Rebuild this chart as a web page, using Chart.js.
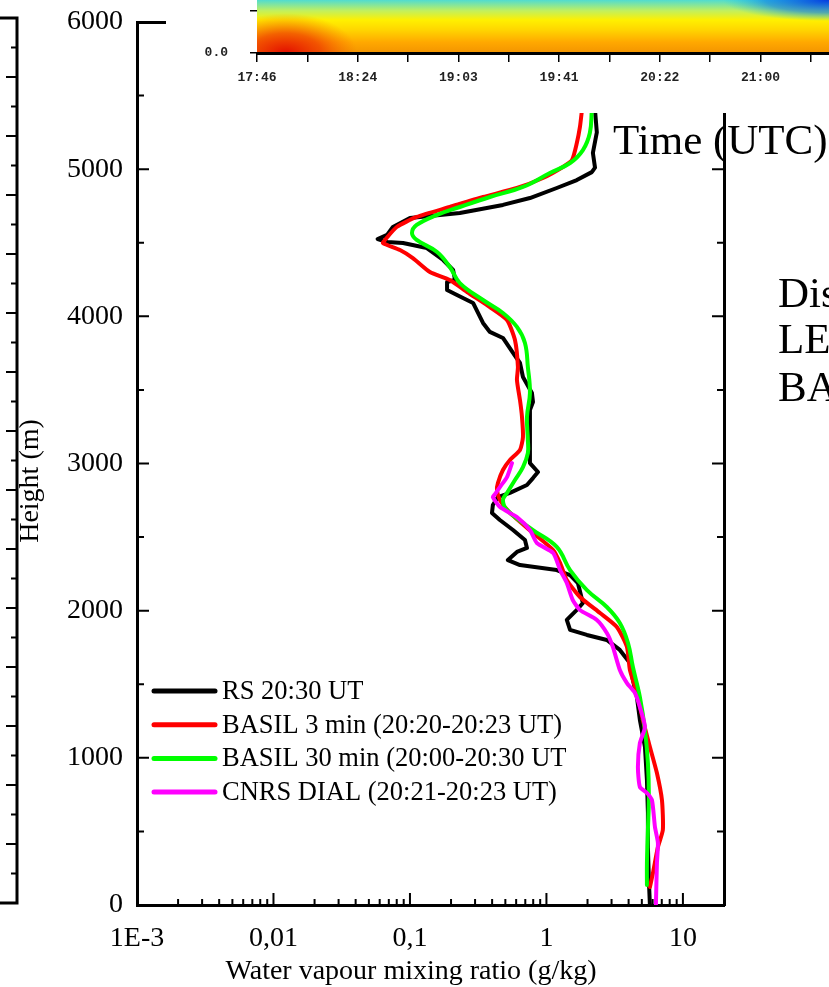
<!DOCTYPE html>
<html>
<head>
<meta charset="utf-8">
<script src="https://cdn.jsdelivr.net/npm/chart.js@4.4.0/dist/chart.umd.min.js"></script>
<style>
    body { margin: 0; background: #fff; }
    #wrap { position: relative; width: 829px; height: 987px; overflow: hidden; }
    canvas { position: absolute; }
    #main { left: 0; top: 0; }
    #side { left: 0; top: 0; }
    #inset { left: 166px; top: 0; background: #fff; }
</style>
</head>
<body>
<div id="wrap">
    <canvas id="main" width="829" height="987"></canvas>
    <canvas id="side" width="24" height="987"></canvas>
    <canvas id="inset" width="663" height="113"></canvas>
</div>
<script>
// profiles: height (m) and water vapour mixing ratio (g/kg)
const rsHeight = [5400, 5250, 5110, 5010, 4980, 4926, 4872, 4804, 4757, 4702, 4668, 4607, 4553, 4525, 4505, 4498, 4464, 4383, 4315, 4247, 4233, 4179, 4145, 4091, 3955, 3894, 3853, 3751, 3683, 3588, 3479, 3418, 3364, 3180, 3003, 2942, 2901, 2854, 2800, 2772, 2718, 2664, 2616, 2548, 2480, 2426, 2399, 2344, 2310, 2276, 2242, 2188, 2052, 2005, 1937, 1869, 1835, 1801, 1733, 1644, 1529, 1413, 1257, 1074, 849, 625, 394, 170, 0];
const rsMix = [2.27, 2.34, 2.19, 2.27, 2.15, 1.67, 1.19, 0.757, 0.48, 0.232, 0.1, 0.075, 0.068, 0.058, 0.068, 0.089, 0.133, 0.175, 0.207, 0.214, 0.187, 0.187, 0.221, 0.29, 0.343, 0.385, 0.48, 0.569, 0.64, 0.673, 0.783, 0.797, 0.757, 0.757, 0.757, 0.867, 0.797, 0.72, 0.54, 0.441, 0.405, 0.399, 0.456, 0.569, 0.696, 0.72, 0.608, 0.522, 0.64, 1.19, 1.49, 1.70, 1.85, 1.67, 1.41, 1.49, 1.98, 2.77, 3.45, 4.09, 4.30, 4.60, 4.84, 5.27, 5.45, 5.54, 5.54, 5.63, 5.73];

const basil3Height = [5400, 5287, 5178, 5062, 5015, 4940, 4872, 4811, 4743, 4675, 4607, 4519, 4498, 4451, 4396, 4301, 4247, 4165, 4063, 3975, 3839, 3656, 3567, 3431, 3316, 3180, 3092, 3024, 2956, 2867, 2820, 2752, 2664, 2528, 2412, 2324, 2208, 2093, 1984, 1889, 1753, 1597, 1441, 1257, 1074, 897, 713, 510, 394, 217, 122];
const basil3Mix = [1.82, 1.76, 1.67, 1.54, 1.32, 0.942, 0.608, 0.343, 0.196, 0.112, 0.080, 0.0656, 0.0634, 0.0845, 0.105, 0.140, 0.196, 0.262, 0.385, 0.514, 0.588, 0.618, 0.608, 0.64, 0.662, 0.673, 0.64, 0.54, 0.48, 0.441, 0.434, 0.456, 0.54, 0.797, 1.12, 1.26, 1.41, 1.76, 2.47, 3.28, 3.89, 4.09, 4.60, 5.09, 5.73, 6.45, 7.02, 7.13, 6.56, 6.03, 5.73];

const basil30Height = [5400, 5246, 5130, 5042, 4974, 4879, 4811, 4743, 4689, 4621, 4566, 4519, 4437, 4335, 4226, 4111, 4023, 3928, 3819, 3656, 3479, 3316, 3160, 3071, 2976, 2888, 2800, 2752, 2684, 2548, 2433, 2276, 2140, 2025, 1916, 1780, 1617, 1413, 1189, 965, 734, 510, 285, 136];
const basil30Mix = [2.15, 2.08, 1.85, 1.49, 1.06, 0.673, 0.385, 0.232, 0.158, 0.112, 0.1035, 0.112, 0.158, 0.196, 0.232, 0.343, 0.48, 0.608, 0.696, 0.731, 0.757, 0.72, 0.731, 0.731, 0.673, 0.588, 0.514, 0.48, 0.514, 0.797, 1.19, 1.49, 1.98, 2.77, 3.45, 3.96, 4.30, 4.84, 5.27, 5.54, 5.63, 5.54, 5.45, 5.45];

const dialHeight = [3003, 2908, 2840, 2792, 2772, 2704, 2636, 2548, 2460, 2392, 2276, 2188, 2072, 2005, 1937, 1848, 1753, 1597, 1508, 1441, 1345, 1210, 1101, 938, 802, 761, 713, 530, 421, 285, 0];
const dialMix = [0.559, 0.514, 0.456, 0.42, 0.405, 0.456, 0.608, 0.757, 0.851, 1.12, 1.26, 1.41, 1.56, 1.76, 2.34, 2.77, 3.07, 3.45, 3.89, 4.45, 4.84, 5.27, 4.84, 4.68, 4.84, 5.45, 5.93, 6.24, 6.56, 6.45, 6.34];

const seriesLabels = ["RS 20:30 UT", "BASIL 3 min (20:20-20:23 UT)", "BASIL 30 min (20:00-20:30 UT", "CNRS DIAL (20:21-20:23 UT)"];
const seriesColors = ["#000000", "#ff0000", "#00ff00", "#ff00ff"];

const xTickValues = [0.001, 0.01, 0.1, 1, 10];
const xTickLabels = ["1E-3", "0,01", "0,1", "1", "10"];
const yTickValues = [0, 1000, 2000, 3000, 4000, 5000, 6000];

// inset (lidar time-height section) axis labels
const insetTimes = ["17:46", "18:24", "19:03", "19:41", "20:22", "21:00"];

const serif = "'Liberation Serif', 'Times New Roman', serif";

const toPoints = (xs, ys) => xs.map((x, i) => ({ x: x, y: ys[i] }));

// keep Chart.js from reserving room for the end labels
const noPad = s => {
    s.paddingTop = 0;
    s.paddingBottom = 0;
    s.paddingLeft = 0;
    s.paddingRight = 0;
};

// inward tick marks, major and minor
const yMarks = [];
for (let h = 0; h <= 6000; h += 500) {
    yMarks.push({ v: h, len: h % 1000 === 0 ? 12 : 7 });
}
const xMarks = [];
xTickValues.forEach(d => {
    for (let m = 1; m <= 9; m++) {
        if (d * m < 20) xMarks.push({ v: d * m, len: m === 1 ? 12 : 6 });
    }
});

const innerTicks = {
    id: "innerTicks",
    afterDraw(chart, args, opts) {
        const { ctx, chartArea: a, scales } = chart;
        ctx.save();
        ctx.strokeStyle = "#000";
        ctx.lineWidth = 2;
        ctx.beginPath();
        opts.y.forEach(t => {
            const py = scales.y.getPixelForValue(t.v);
            ctx.moveTo(a.left, py);
            ctx.lineTo(a.left + t.len, py);
            ctx.moveTo(a.right, py);
            ctx.lineTo(a.right - t.len, py);
        });
        opts.x.forEach(t => {
            const px = scales.x.getPixelForValue(t.v);
            ctx.moveTo(px, a.bottom);
            ctx.lineTo(px, a.bottom - t.len);
        });
        ctx.stroke();
        ctx.restore();
    }
};

const annotations = {
    id: "annotations",
    afterDraw(chart) {
        const ctx = chart.ctx;
        ctx.save();
        ctx.fillStyle = "#000";

        ctx.font = "28px " + serif;
        ctx.textAlign = "center";
        ctx.textBaseline = "middle";
        ctx.save();
        ctx.translate(31, 481);
        ctx.rotate(-Math.PI / 2);
        ctx.fillText("Height (m)", 0, 0);
        ctx.restore();

        ctx.textBaseline = "alphabetic";
        ctx.fillText("Water vapour mixing ratio (g/kg)", 411, 979);

        // legend
        ctx.font = "26.5px " + serif;
        ctx.textAlign = "left";
        ctx.textBaseline = "middle";
        chart.data.datasets.forEach((ds, i) => {
            const y = 691 + i * 33.7;
            ctx.strokeStyle = ds.borderColor;
            ctx.lineWidth = 5;
            ctx.lineCap = "round";
            ctx.beginPath();
            ctx.moveTo(154, y);
            ctx.lineTo(215, y);
            ctx.stroke();
            ctx.fillText(ds.label, 222, y + 1);
        });

        ctx.font = "43px " + serif;
        ctx.textBaseline = "alphabetic";
        ctx.fillText("Time (UTC)", 613, 154);
        ctx.fillText("Dis", 778, 307);
        ctx.fillText("LE", 778, 353);
        ctx.fillText("BA", 778, 401);
        ctx.restore();
    }
};

const profiles = [
    toPoints(rsMix, rsHeight),
    toPoints(basil3Mix, basil3Height),
    toPoints(basil30Mix, basil30Height),
    toPoints(dialMix, dialHeight),
];
const tensions = [0, 0.2, 0.4, 0.2];

const mainChart = new Chart(document.getElementById("main").getContext("2d"), {
    type: "scatter",
    data: {
        datasets: profiles.map((pts, i) => ({
            label: seriesLabels[i],
            data: pts,
            showLine: true,
            borderColor: seriesColors[i],
            backgroundColor: seriesColors[i],
            borderWidth: 4,
            borderJoinStyle: "round",
            borderCapStyle: "round",
            pointRadius: 0,
            tension: tensions[i],
            order: 4 - i,
        })),
    },
    options: {
        responsive: false,
        animation: false,
        devicePixelRatio: 1,
        layout: { padding: 0 },
        plugins: {
            legend: { display: false },
            tooltip: { enabled: false },
            innerTicks: { x: xMarks, y: yMarks },
        },
        scales: {
            x: {
                type: "logarithmic",
                position: "bottom",
                min: 0.001,
                max: 20,
                afterBuildTicks: s => { s.ticks = xTickValues.map(v => ({ value: v })); },
                ticks: {
                    autoSkip: false,
                    maxRotation: 0,
                    padding: 17,
                    color: "#000",
                    font: { family: serif, size: 28 },
                    callback: v => {
                        const k = xTickValues.indexOf(v);
                        return k >= 0 ? xTickLabels[k] : "";
                    },
                },
                grid: { display: false, drawTicks: false },
                border: { color: "#000", width: 3 },
                afterFit: s => { s.height = 82; noPad(s); },
            },
            xT: {
                type: "logarithmic",
                position: "top",
                min: 0.001,
                max: 20,
                ticks: { display: false },
                grid: { display: false, drawTicks: false },
                border: { color: "#000", width: 3 },
                afterFit: s => { s.height = 22; noPad(s); },
            },
            y: {
                type: "linear",
                position: "left",
                min: 0,
                max: 6000,
                afterBuildTicks: s => { s.ticks = yTickValues.map(v => ({ value: v })); },
                ticks: {
                    padding: 14,
                    color: "#000",
                    font: { family: serif, size: 28 },
                    callback: v => String(v),
                },
                grid: { display: false, drawTicks: false },
                border: { color: "#000", width: 3 },
                afterFit: s => { s.width = 137; noPad(s); },
            },
            yR: {
                type: "linear",
                position: "right",
                min: 0,
                max: 6000,
                ticks: { display: false },
                grid: { display: false, drawTicks: false },
                border: { color: "#000", width: 3 },
                afterFit: s => { s.width = 105; noPad(s); },
            },
        },
    },
    plugins: [innerTicks, annotations],
});

// edge of the neighbouring panel on the left
const sideMarks = [];
for (let k = 1; k < 30; k++) sideMarks.push({ v: k, len: k % 2 === 0 ? 11 : 6 });

const sideFrame = {
    id: "sideFrame",
    afterDraw(chart) {
        const { ctx, chartArea: a, scales } = chart;
        const top = scales.y.getPixelForValue(30);
        const bottom = scales.y.getPixelForValue(0);
        ctx.save();
        ctx.strokeStyle = "#000";
        ctx.lineWidth = 3;
        ctx.beginPath();
        ctx.moveTo(0, top);
        ctx.lineTo(a.right, top);
        ctx.lineTo(a.right, bottom);
        ctx.lineTo(0, bottom);
        ctx.stroke();
        ctx.lineWidth = 2;
        ctx.beginPath();
        sideMarks.forEach(t => {
            const py = scales.y.getPixelForValue(t.v);
            ctx.moveTo(a.right, py);
            ctx.lineTo(a.right - t.len, py);
        });
        ctx.stroke();
        ctx.restore();
    }
};

const sideChart = new Chart(document.getElementById("side").getContext("2d"), {
    type: "scatter",
    data: { datasets: [] },
    options: {
        responsive: false,
        animation: false,
        devicePixelRatio: 1,
        layout: { padding: { top: 18, bottom: 84, left: 0, right: 0 } },
        plugins: { legend: { display: false }, tooltip: { enabled: false } },
        scales: {
            x: { display: false, min: 0, max: 1 },
            y: {
                position: "right",
                min: 0,
                max: 30,
                ticks: { display: false },
                grid: { display: false, drawTicks: false },
                border: { display: false },
                afterFit: s => { s.width = 7; noPad(s); },
            },
        },
    },
    plugins: [sideFrame],
});

// colour strip of the inset
const heatStrip = {
    id: "heatStrip",
    beforeDraw(chart) {
        const { ctx, chartArea: a } = chart;
        const w = a.right - a.left;
        const h = a.bottom - a.top;
        ctx.save();
        ctx.beginPath();
        ctx.rect(a.left, a.top, w, h);
        ctx.clip();

        const g = ctx.createLinearGradient(0, a.bottom, 0, a.top);
        g.addColorStop(0, "#f39400");
        g.addColorStop(0.2, "#ffa800");
        g.addColorStop(0.45, "#ffd800");
        g.addColorStop(0.62, "#fff000");
        g.addColorStop(0.8, "#c0f060");
        g.addColorStop(1, "#50dcd0");
        ctx.fillStyle = g;
        ctx.fillRect(a.left, a.top, w, h);

        // moister, reddish base at the start of the record
        ctx.save();
        ctx.translate(a.left + w * 0.05, a.bottom);
        ctx.scale(1.8, 1);
        const red = ctx.createRadialGradient(0, 0, 0, 0, 0, h * 0.75);
        red.addColorStop(0, "rgba(225,0,0,0.9)");
        red.addColorStop(0.5, "rgba(235,30,0,0.6)");
        red.addColorStop(1, "rgba(245,80,0,0)");
        ctx.fillStyle = red;
        ctx.fillRect(-w, -h, 2 * w, 2 * h);
        ctx.restore();

        // drier, bluer air on the top right
        ctx.save();
        ctx.translate(a.right, a.top);
        ctx.scale(5, 1);
        const blue = ctx.createRadialGradient(0, 0, 0, 0, 0, h * 0.4);
        blue.addColorStop(0, "rgba(0,50,225,0.95)");
        blue.addColorStop(0.6, "rgba(0,120,240,0.6)");
        blue.addColorStop(1, "rgba(0,190,255,0)");
        ctx.fillStyle = blue;
        ctx.fillRect(-w, -h, 2 * w, 2 * h);
        ctx.restore();

        ctx.restore();
    }
};

const monoFont = { family: "'Liberation Mono', 'DejaVu Sans Mono', monospace", size: 13, weight: "bold" };

const insetChart = new Chart(document.getElementById("inset").getContext("2d"), {
    type: "scatter",
    data: { datasets: [] },
    options: {
        responsive: false,
        animation: false,
        devicePixelRatio: 1,
        layout: { padding: 0 },
        plugins: { legend: { display: false }, tooltip: { enabled: false } },
        scales: {
            x: {
                type: "linear",
                position: "bottom",
                min: 0,
                max: 5.68,
                ticks: {
                    stepSize: 0.5,
                    includeBounds: false,
                    autoSkip: false,
                    maxRotation: 0,
                    padding: 8,
                    color: "#222",
                    font: monoFont,
                    callback: v => (Number.isInteger(v) ? insetTimes[v] : ""),
                },
                grid: { drawOnChartArea: false, tickLength: 9, color: "#000", lineWidth: 1.5 },
                border: { color: "#000", width: 3 },
                afterFit: s => { s.height = 60; noPad(s); },
            },
            y: {
                type: "linear",
                position: "left",
                min: 0,
                max: 0.63,
                ticks: {
                    stepSize: 0.5,
                    includeBounds: false,
                    padding: 22,
                    color: "#222",
                    font: monoFont,
                    callback: v => (v === 0 ? "0.0" : ""),
                },
                grid: { drawOnChartArea: false, tickLength: 7, color: "#000", lineWidth: 1.5 },
                border: { display: false },
                afterFit: s => { s.width = 91; noPad(s); },
            },
        },
    },
    plugins: [heatStrip],
});
</script>
</body>
</html>
